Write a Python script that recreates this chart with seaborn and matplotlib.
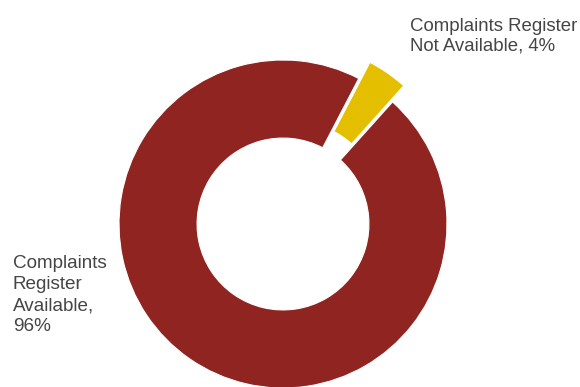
import matplotlib
matplotlib.use("Agg")
import matplotlib.pyplot as plt
import seaborn as sns

# Survey result: availability of a complaints register
categories = ["Complaints Register\nNot Available", "Complaints\nRegister\nAvailable"]
shares = [4, 96]
colors = ["#e3bf00", "#8f2421"]
explode = [0.12, 0.0]

sns.set_theme(style="white")
plt.rcParams["font.family"] = ["Liberation Sans", "DejaVu Sans"]

fig = plt.figure(figsize=(5.8, 3.87), dpi=100)
ax = fig.add_axes([0, 0, 1, 1])

wedges, _ = ax.pie(
    shares,
    colors=colors,
    explode=explode,
    startangle=62.5,
    counterclock=False,
    radius=1.0,
    wedgeprops=dict(width=0.476, edgecolor="white", linewidth=0.8),
)

# Place the ring so its centre sits slightly left of middle with the bottom touching the edge
ax.set_xlim(-283 / 164, (580 - 283) / 164)
ax.set_ylim(-(387 - 224) / 164, 224 / 164)
ax.set_aspect("equal")
ax.axis("off")

labels = [f"{c}, {v}%" for c, v in zip(categories, shares)]
labels[1] = labels[1].replace(", ", ",\n")

fig.text(410 / 580, 1 - 18 / 387, labels[0], color="#454545", fontsize=13.4,
         ha="left", va="top", linespacing=1.18)
fig.text(13 / 580, 1 - 255 / 387, labels[1], color="#454545", fontsize=13.6,
         ha="left", va="top", linespacing=1.32)

fig.savefig("out.png", dpi=100, facecolor="white")
